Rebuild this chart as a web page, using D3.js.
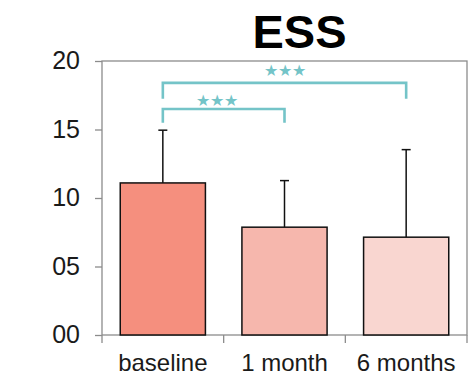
<!DOCTYPE html>
<html lang="en">
<head>
    <meta charset="UTF-8">
    <title>ESS</title>
    <script src="https://cdn.jsdelivr.net/npm/d3@7"></script>
    <style>
        body {
            margin: 0;
            background: #fff;
        }

        text {
            font-family: Arial, "Liberation Sans", sans-serif;
            fill: #1a1a1a;
        }
    </style>
</head>
<body>
<script>
    // data
    const categories = ["baseline", "1 month", "6 months"];
    const means = [11.1, 7.87, 7.14];
    const errTops = [14.95, 11.27, 13.53];
    const barColors = ["#f58f7e", "#f6b7ad", "#f9d6d0"];
    const yTicks = [0, 5, 10, 15, 20];
    // significance brackets: from / to category index, level in data units
    const brackets = [
        { from: 0, to: 2, top: 18.4, drop: 1.15, label: "★★★", shift: 0, labelY: 19.35 },
        { from: 0, to: 1, top: 16.5, drop: 1.0, label: "★★★", shift: -7, labelY: 17.15 }
    ];

    const width = 472, height = 383;
    const margin = { top: 61, right: 5, bottom: 48, left: 102 };

    const svg = d3.select("body").append("svg")
        .attr("width", width)
        .attr("height", height);

    const x = d3.scaleBand()
        .domain(categories)
        .range([margin.left, width - margin.right])
        .paddingInner(0.3)
        .paddingOuter(0.15);

    const y = d3.scaleLinear()
        .domain([0, 20])
        .range([height - margin.bottom, margin.top]);

    const x0 = margin.left, x1 = width - margin.right;
    const yb = y(0), yt = y(20);

    // plot frame
    const frame = svg.append("g").attr("stroke", "#8c8c8c").attr("stroke-width", 1.3).attr("fill", "none");
    frame.append("rect")
        .attr("x", x0).attr("y", yt)
        .attr("width", x1 - x0).attr("height", yb - yt);

    // y axis
    const yAxis = svg.append("g")
        .attr("transform", `translate(${x0},0)`)
        .call(d3.axisLeft(y).tickValues(yTicks).tickFormat(d3.format("02d")).tickSize(7).tickPadding(15));
    yAxis.select(".domain").remove();
    yAxis.selectAll("line").attr("stroke", "#8c8c8c").attr("stroke-width", 1.3);
    yAxis.selectAll("text")
        .attr("font-size", 25)
        .attr("fill", "#1a1a1a")
        .attr("dy", "0.3em");

    // x axis: ticks at category boundaries
    const boundaries = d3.range(categories.length + 1).map(i => x0 + (x1 - x0) * i / categories.length);
    svg.append("g").selectAll("line")
        .data(boundaries)
        .enter().append("line")
        .attr("x1", d => d).attr("x2", d => d)
        .attr("y1", yb).attr("y2", yb + 8)
        .attr("stroke", "#8c8c8c").attr("stroke-width", 1.3);

    svg.append("g").selectAll("text")
        .data(categories)
        .enter().append("text")
        .attr("x", d => x(d) + x.bandwidth() / 2)
        .attr("y", yb + 36)
        .attr("text-anchor", "middle")
        .attr("font-size", 24)
        .text(d => d);

    // error bars (upper only)
    const err = svg.append("g").attr("stroke", "#111").attr("stroke-width", 1.5);
    categories.forEach((c, i) => {
        const cx = x(c) + x.bandwidth() / 2;
        err.append("line")
            .attr("x1", cx).attr("x2", cx)
            .attr("y1", y(means[i])).attr("y2", y(errTops[i]));
        err.append("line")
            .attr("x1", cx - 4.5).attr("x2", cx + 4.5)
            .attr("y1", y(errTops[i])).attr("y2", y(errTops[i]));
    });

    // bars
    svg.append("g").selectAll("rect")
        .data(categories)
        .enter().append("rect")
        .attr("x", d => x(d))
        .attr("y", (d, i) => y(means[i]))
        .attr("width", x.bandwidth())
        .attr("height", (d, i) => yb - y(means[i]))
        .attr("fill", (d, i) => barColors[i])
        .attr("stroke", "#111")
        .attr("stroke-width", 1.5);

    // significance brackets
    const teal = "#74c4c8";
    brackets.forEach(b => {
        const xa = x(categories[b.from]) + x.bandwidth() / 2;
        const xb = x(categories[b.to]) + x.bandwidth() / 2;
        svg.append("path")
            .attr("d", `M${xa},${y(b.top - b.drop)}V${y(b.top)}H${xb}V${y(b.top - b.drop)}`)
            .attr("fill", "none")
            .attr("stroke", teal)
            .attr("stroke-width", 2.6);
        svg.append("text")
            .attr("x", (xa + xb) / 2 + b.shift)
            .attr("y", y(b.labelY))
            .attr("dy", "0.38em")
            .attr("text-anchor", "middle")
            .attr("font-family", "'DejaVu Sans', sans-serif")
            .attr("font-size", 16)
            .style("fill", teal)
            .text(b.label);
    });

    // title
    svg.append("text")
        .attr("x", 299.5)
        .attr("y", 48)
        .attr("text-anchor", "middle")
        .attr("font-size", 47)
        .attr("font-weight", "bold")
        .style("fill", "#000")
        .text("ESS");
</script>
</body>
</html>
